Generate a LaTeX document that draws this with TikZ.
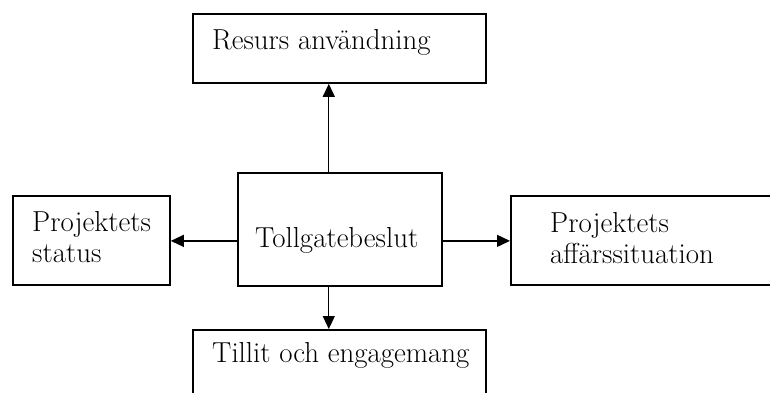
\documentclass[tikz,border=0pt]{standalone}
\usepackage{fontspec}
\usetikzlibrary{arrows.meta,calc}
\begin{document}
\begin{tikzpicture}[x=1pt,y=-1pt,
  boxline/.style={draw=black,line width=1.8pt},
  lbl/.style={anchor=base west,inner sep=0pt,font=\fontsize{28.9}{31}\selectfont,align=left},
  conn/.style={line width=1.3pt,-{Triangle[length=13pt,width=12pt]}}]
\useasboundingbox (0,0) rectangle (770,392);
\begin{scope}
\clip (0,0) rectangle (770,392);
% boxes
\node[boxline,inner sep=0pt,minimum width=293pt,minimum height=69pt,anchor=north west] (top) at (192,13) {};
\node[boxline,inner sep=0pt,minimum width=204pt,minimum height=113pt,anchor=north west] (mid) at (237,172) {};
\node[boxline,inner sep=0pt,minimum width=157pt,minimum height=89pt,anchor=north west] (left) at (12,195) {};
\node[boxline,inner sep=0pt,minimum width=290pt,minimum height=89pt,anchor=north west] (right) at (510,195) {};
\node[boxline,inner sep=0pt,minimum width=293pt,minimum height=90pt,anchor=north west] (bot) at (192,329) {};
\end{scope}
% texts
\node[lbl] (ttop) at (212,49) {Resurs användning};
\node[lbl] (tmid) at (255,247) {Tollgatebeslut};
\node[lbl] (tleft) at (32,262) {Projektets\\status};
\node[lbl] (tright) at (550,263) {Projektets\\affärssituation};
\node[lbl] (tbot) at (212,362) {Tillit och engagemang};
% connectors
\coordinate (mt) at ($(mid.north west)!0.446!(mid.north east)$);
\coordinate (mb) at ($(mid.south west)!0.446!(mid.south east)$);
\coordinate (ml) at ($(mid.north west)!0.6!(mid.south west)$);
\coordinate (mr) at ($(mid.north east)!0.6!(mid.south east)$);
\draw[conn] (mt) -- (mt |- top.south);
\draw[conn] (mb) -- (mb |- bot.north);
\draw[conn] (ml) -- (ml -| left.east);
\draw[conn] (mr) -- (mr -| right.west);
\end{tikzpicture}
\end{document}
